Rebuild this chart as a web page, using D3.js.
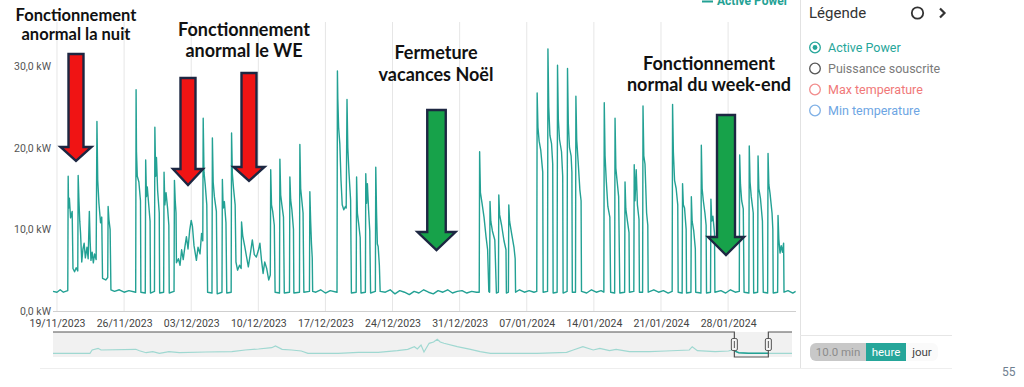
<!DOCTYPE html>
<html>
<head>
<meta charset="utf-8">
<script src="https://cdn.jsdelivr.net/npm/d3@7"></script>
<style>
	body { margin: 0; background: #fff; }
	svg { display: block; font-family: Roboto, "Noto Sans", sans-serif; }
	.annot { font-family: Lato, "Open Sans", sans-serif; font-weight: 700; fill: #111; }
</style>
</head>
<body>
<svg width="1024" height="387"></svg>
<script>
// hourly power: [local time, kW]
var weekNov20 = [
	["2023-11-18 14", 2.4], ["2023-11-19 00", 2.3], ["2023-11-19 08", 2.6], ["2023-11-19 16", 2.3], ["2023-11-20 03", 2.5],
	["2023-11-20 04", 16.5], ["2023-11-20 05", 12.6], ["2023-11-20 07", 13.8], ["2023-11-20 10", 11.4], ["2023-11-20 14", 12.2],
	["2023-11-20 16", 5.2], ["2023-11-20 20", 4.8], ["2023-11-21 00", 5.3], ["2023-11-21 04", 4.9],
	["2023-11-21 05", 16.6], ["2023-11-21 07", 13.4], ["2023-11-21 09", 11.0], ["2023-11-21 11", 9.5], ["2023-11-21 14", 6.0],
	["2023-11-21 17", 7.6], ["2023-11-21 20", 8.3], ["2023-11-21 23", 6.5], ["2023-11-22 03", 7.8], ["2023-11-22 06", 6.4],
	["2023-11-22 09", 12.2], ["2023-11-22 11", 8.5], ["2023-11-22 13", 6.2], ["2023-11-22 16", 7.2], ["2023-11-22 19", 5.9],
	["2023-11-22 22", 7.0], ["2023-11-23 02", 6.3],
	["2023-11-23 04", 23.2], ["2023-11-23 06", 16.0], ["2023-11-23 09", 13.2], ["2023-11-23 13", 10.8], ["2023-11-23 16", 11.5],
	["2023-11-23 18", 4.0], ["2023-11-24 02", 3.8], ["2023-11-24 07", 4.1],
	["2023-11-24 08", 12.8], ["2023-11-24 10", 11.2], ["2023-11-24 13", 10.0], ["2023-11-24 15", 2.6],
	["2023-11-25 00", 2.4], ["2023-11-25 12", 2.6], ["2023-11-26 00", 2.3], ["2023-11-26 12", 2.5], ["2023-11-27 05", 2.3]
]
var weekNov27 = [
	["2023-11-27 06", 27.1], ["2023-11-27 07", 19.5], ["2023-11-27 09", 16.5], ["2023-11-27 13", 15.8], ["2023-11-27 17", 13.5], ["2023-11-27 18", 2.3],
	["2023-11-28 05", 2.2], ["2023-11-28 06", 18.5], ["2023-11-28 08", 14.0], ["2023-11-28 10", 15.2], ["2023-11-28 14", 12.8], ["2023-11-28 17", 11.0], ["2023-11-28 18", 2.2],
	["2023-11-29 04", 2.4], ["2023-11-29 05", 22.5], ["2023-11-29 07", 16.5], ["2023-11-29 09", 18.8], ["2023-11-29 12", 14.7], ["2023-11-29 16", 12.0], ["2023-11-29 17", 2.2],
	["2023-11-30 03", 2.3], ["2023-11-30 04", 17.0], ["2023-11-30 06", 13.0], ["2023-11-30 09", 14.5], ["2023-11-30 13", 12.5], ["2023-11-30 16", 10.5], ["2023-11-30 17", 2.2],
	["2023-12-01 05", 2.4], ["2023-12-01 06", 16.0], ["2023-12-01 08", 13.5], ["2023-12-01 10", 12.0], ["2023-12-01 11", 5.9],
	["2023-12-01 16", 6.4], ["2023-12-01 20", 5.6], ["2023-12-02 00", 7.5], ["2023-12-02 04", 6.3], ["2023-12-02 08", 7.8],
	["2023-12-02 12", 9.1], ["2023-12-02 16", 7.6], ["2023-12-02 20", 9.8], ["2023-12-03 00", 11.1], ["2023-12-03 03", 10.4],
	["2023-12-03 07", 8.0], ["2023-12-03 13", 6.2], ["2023-12-03 17", 7.8], ["2023-12-03 22", 7.0], ["2023-12-04 02", 9.5], ["2023-12-04 05", 8.6]
]
var weekDec04 = [
	["2023-12-04 06", 23.6], ["2023-12-04 08", 17.0], ["2023-12-04 11", 15.5], ["2023-12-04 15", 13.0], ["2023-12-04 17", 2.3],
	["2023-12-05 04", 2.2], ["2023-12-05 05", 21.2], ["2023-12-05 07", 15.8], ["2023-12-05 10", 14.0], ["2023-12-05 15", 12.2], ["2023-12-05 17", 2.1],
	["2023-12-06 05", 2.3], ["2023-12-06 06", 16.1], ["2023-12-06 08", 12.6], ["2023-12-06 11", 13.4], ["2023-12-06 15", 10.8], ["2023-12-06 17", 2.2],
	["2023-12-07 04", 2.3], ["2023-12-07 05", 21.8], ["2023-12-07 07", 16.8], ["2023-12-07 10", 15.0], ["2023-12-07 14", 13.0],
	["2023-12-07 16", 6.0], ["2023-12-07 20", 5.0], ["2023-12-08 01", 5.6], ["2023-12-08 05", 5.2],
	["2023-12-08 06", 10.9], ["2023-12-08 09", 9.2], ["2023-12-08 14", 7.9], ["2023-12-08 19", 6.5], ["2023-12-08 23", 5.4],
	["2023-12-09 04", 7.0], ["2023-12-09 09", 8.7], ["2023-12-09 14", 6.9], ["2023-12-09 19", 6.6], ["2023-12-10 00", 7.4],
	["2023-12-10 04", 8.3], ["2023-12-10 08", 6.2], ["2023-12-10 12", 4.6], ["2023-12-10 16", 6.0], ["2023-12-10 21", 5.2],
	["2023-12-11 02", 3.8], ["2023-12-11 06", 4.4]
]
var weekDec11 = [
	["2023-12-11 07", 17.3], ["2023-12-11 09", 13.0], ["2023-12-11 12", 12.2], ["2023-12-11 16", 10.5], ["2023-12-11 18", 2.3],
	["2023-12-12 05", 2.2], ["2023-12-12 06", 18.6], ["2023-12-12 08", 14.2], ["2023-12-12 11", 13.0], ["2023-12-12 15", 11.5], ["2023-12-12 17", 2.2],
	["2023-12-13 06", 2.3], ["2023-12-13 07", 16.4], ["2023-12-13 09", 13.6], ["2023-12-13 12", 12.4], ["2023-12-13 16", 10.0], ["2023-12-13 17", 2.2],
	["2023-12-14 07", 2.3], ["2023-12-14 08", 20.4], ["2023-12-14 10", 15.0], ["2023-12-14 13", 13.5], ["2023-12-14 16", 12.0], ["2023-12-14 18", 2.3],
	["2023-12-15 08", 2.4], ["2023-12-15 09", 14.6], ["2023-12-15 11", 11.0], ["2023-12-15 13", 8.3], ["2023-12-15 15", 6.5], ["2023-12-15 16", 2.4],
	["2023-12-16 00", 2.3], ["2023-12-16 12", 2.6], ["2023-12-17 00", 2.2], ["2023-12-17 12", 2.5], ["2023-12-18 05", 2.3]
]
var weekDec18 = [
	["2023-12-18 06", 29.4], ["2023-12-18 07", 26.0], ["2023-12-18 09", 22.5], ["2023-12-18 12", 20.5], ["2023-12-18 15", 16.0],
	["2023-12-18 18", 13.0], ["2023-12-18 22", 12.4], ["2023-12-19 02", 12.8], ["2023-12-19 04", 12.6],
	["2023-12-19 06", 25.9], ["2023-12-19 08", 20.0], ["2023-12-19 11", 16.9], ["2023-12-19 15", 13.6], ["2023-12-19 17", 2.2],
	["2023-12-20 05", 2.3], ["2023-12-20 06", 16.4], ["2023-12-20 08", 12.0], ["2023-12-20 11", 10.8], ["2023-12-20 15", 9.0], ["2023-12-20 17", 2.2],
	["2023-12-21 04", 2.3], ["2023-12-21 05", 16.8], ["2023-12-21 07", 13.2], ["2023-12-21 09", 15.6], ["2023-12-21 12", 12.4], ["2023-12-21 15", 9.8], ["2023-12-21 17", 2.2],
	["2023-12-22 05", 2.4], ["2023-12-22 06", 17.6], ["2023-12-22 08", 12.0], ["2023-12-22 10", 8.2], ["2023-12-22 12", 7.9], ["2023-12-22 15", 5.6], ["2023-12-22 17", 2.4]
]
var christmas = [
	["2023-12-23 06", 2.3], ["2023-12-23 18", 2.6], ["2023-12-24 06", 2.1], ["2023-12-24 18", 2.5], ["2023-12-25 06", 2.3],
	["2023-12-25 18", 2.0], ["2023-12-26 06", 2.4], ["2023-12-26 18", 2.2], ["2023-12-27 06", 2.6], ["2023-12-27 18", 2.3],
	["2023-12-28 06", 2.1], ["2023-12-28 18", 2.5], ["2023-12-29 06", 2.3], ["2023-12-29 18", 2.6], ["2023-12-30 06", 2.2],
	["2023-12-30 18", 2.4], ["2023-12-31 06", 2.5], ["2023-12-31 18", 2.2], ["2024-01-01 06", 2.4], ["2024-01-01 18", 2.3], ["2024-01-02 01", 2.3]
]
var weekJan01 = [
	["2024-01-02 02", 19.5], ["2024-01-02 04", 14.5], ["2024-01-02 08", 13.2], ["2024-01-02 13", 11.5], ["2024-01-02 18", 9.1], ["2024-01-02 22", 7.5], ["2024-01-03 01", 2.4],
	["2024-01-03 03", 2.3], ["2024-01-03 04", 13.4], ["2024-01-03 06", 11.0], ["2024-01-03 10", 9.8], ["2024-01-03 16", 8.7], ["2024-01-03 20", 2.2],
	["2024-01-04 01", 2.3], ["2024-01-04 02", 14.2], ["2024-01-04 04", 11.8], ["2024-01-04 09", 10.5], ["2024-01-04 15", 8.6], ["2024-01-04 20", 7.5], ["2024-01-04 21", 2.2],
	["2024-01-05 02", 2.3], ["2024-01-05 03", 13.0], ["2024-01-05 05", 11.0], ["2024-01-05 10", 9.5], ["2024-01-05 16", 7.8], ["2024-01-05 19", 6.4], ["2024-01-05 20", 2.3],
	["2024-01-06 06", 2.6], ["2024-01-06 18", 2.3], ["2024-01-07 06", 2.5], ["2024-01-07 18", 2.3], ["2024-01-08 01", 2.4]
]
var weekJan08 = [
	["2024-01-08 02", 26.7], ["2024-01-08 04", 22.5], ["2024-01-08 07", 20.8], ["2024-01-08 11", 19.7], ["2024-01-08 16", 17.0], ["2024-01-08 17", 2.3],
	["2024-01-09 04", 2.4], ["2024-01-09 05", 32.1], ["2024-01-09 07", 25.0], ["2024-01-09 10", 21.5], ["2024-01-09 14", 20.5], ["2024-01-09 17", 18.0], ["2024-01-09 18", 2.2],
	["2024-01-10 04", 2.3], ["2024-01-10 05", 30.1], ["2024-01-10 07", 23.5], ["2024-01-10 10", 21.0], ["2024-01-10 15", 19.5], ["2024-01-10 18", 16.5], ["2024-01-10 19", 2.2],
	["2024-01-11 05", 2.4], ["2024-01-11 06", 29.7], ["2024-01-11 08", 23.0], ["2024-01-11 11", 20.0], ["2024-01-11 15", 19.0], ["2024-01-11 17", 17.0], ["2024-01-11 18", 2.3],
	["2024-01-12 02", 2.3], ["2024-01-12 03", 26.3], ["2024-01-12 05", 21.0], ["2024-01-12 09", 18.0], ["2024-01-12 13", 14.8], ["2024-01-12 16", 13.5], ["2024-01-12 17", 2.4],
	["2024-01-13 06", 2.2], ["2024-01-13 18", 2.6], ["2024-01-14 06", 2.3], ["2024-01-14 18", 2.5], ["2024-01-15 01", 2.3]
]
var weekJan15 = [
	["2024-01-15 02", 25.5], ["2024-01-15 04", 19.0], ["2024-01-15 07", 16.0], ["2024-01-15 11", 12.8], ["2024-01-15 16", 11.5], ["2024-01-15 18", 2.3],
	["2024-01-16 04", 2.2], ["2024-01-16 05", 23.6], ["2024-01-16 07", 17.5], ["2024-01-16 10", 16.0], ["2024-01-16 14", 14.0], ["2024-01-16 17", 2.2],
	["2024-01-17 05", 2.3], ["2024-01-17 06", 15.8], ["2024-01-17 08", 12.5], ["2024-01-17 12", 11.0], ["2024-01-17 16", 9.6], ["2024-01-17 17", 2.3],
	["2024-01-18 04", 2.4], ["2024-01-18 05", 17.9], ["2024-01-18 07", 13.5], ["2024-01-18 10", 17.3], ["2024-01-18 13", 13.0], ["2024-01-18 17", 11.2], ["2024-01-18 18", 2.3],
	["2024-01-19 02", 2.3], ["2024-01-19 03", 25.1], ["2024-01-19 05", 19.0], ["2024-01-19 08", 18.0], ["2024-01-19 12", 12.0], ["2024-01-19 15", 10.5], ["2024-01-19 16", 2.3],
	["2024-01-20 06", 2.6], ["2024-01-20 18", 2.3], ["2024-01-21 06", 2.5], ["2024-01-21 18", 2.2], ["2024-01-22 04", 2.4]
]
var weekJan22 = [
	["2024-01-22 05", 25.3], ["2024-01-22 07", 19.5], ["2024-01-22 10", 16.0], ["2024-01-22 14", 15.0], ["2024-01-22 18", 13.0], ["2024-01-22 19", 2.3],
	["2024-01-23 05", 2.2], ["2024-01-23 06", 15.6], ["2024-01-23 08", 13.0], ["2024-01-23 11", 12.6], ["2024-01-23 15", 10.0], ["2024-01-23 16", 2.2],
	["2024-01-24 03", 2.3], ["2024-01-24 04", 14.0], ["2024-01-24 06", 11.0], ["2024-01-24 10", 9.8], ["2024-01-24 14", 7.6], ["2024-01-24 15", 2.3],
	["2024-01-25 04", 2.2], ["2024-01-25 05", 20.3], ["2024-01-25 07", 15.0], ["2024-01-25 10", 13.5], ["2024-01-25 14", 12.0], ["2024-01-25 17", 10.5], ["2024-01-25 18", 2.2],
	["2024-01-26 04", 2.3], ["2024-01-26 05", 13.7], ["2024-01-26 07", 11.0], ["2024-01-26 10", 11.6], ["2024-01-26 14", 9.5], ["2024-01-26 15", 2.3],
	["2024-01-27 06", 2.5], ["2024-01-27 18", 2.2], ["2024-01-28 06", 2.6], ["2024-01-28 18", 2.3], ["2024-01-29 04", 2.4]
]
var weekJan29 = [
	["2024-01-29 05", 19.1], ["2024-01-29 07", 15.5], ["2024-01-29 10", 13.5], ["2024-01-29 14", 12.5], ["2024-01-29 16", 2.3],
	["2024-01-30 04", 2.2], ["2024-01-30 05", 20.2], ["2024-01-30 07", 15.8], ["2024-01-30 10", 14.0], ["2024-01-30 15", 12.0], ["2024-01-30 16", 2.2],
	["2024-01-31 02", 2.3], ["2024-01-31 03", 19.0], ["2024-01-31 05", 15.0], ["2024-01-31 09", 13.8], ["2024-01-31 14", 11.0], ["2024-01-31 16", 2.3],
	["2024-02-01 03", 2.2], ["2024-02-01 04", 19.3], ["2024-02-01 06", 15.5], ["2024-02-01 09", 14.4], ["2024-02-01 14", 12.0], ["2024-02-01 16", 10.0], ["2024-02-01 17", 2.2],
	["2024-02-02 04", 2.3], ["2024-02-02 05", 11.7], ["2024-02-02 07", 8.8], ["2024-02-02 10", 7.1], ["2024-02-02 13", 8.0], ["2024-02-02 16", 7.2], ["2024-02-02 19", 8.3], ["2024-02-02 20", 2.3],
	["2024-02-03 06", 2.5], ["2024-02-03 18", 2.2], ["2024-02-04 01", 2.4]
]

// navigator (overview) series, [position 0..100, kW]
var navigatorSeries = [
	[0, 3.7], [5.0, 3.7], [5.3, 7.0], [6.1, 8.7], [6.5, 7.0], [11.2, 7.7], [11.7, 6.3], [12.6, 4.3], [13.5, 5.3],
	[14.4, 3.7], [15.7, 5.3], [17.1, 4.3], [20.7, 5.0], [24.2, 5.3], [26.0, 7.0], [27.8, 8.0], [29.6, 9.3], [30.1, 11.0],
	[31.0, 7.7], [32.3, 7.0], [33.6, 6.0], [34.5, 3.7], [38.6, 3.7], [41.3, 4.7], [44.0, 4.7], [46.6, 6.3], [48.0, 7.7],
	[48.9, 10.3], [49.3, 8.0], [49.8, 12.0], [50.2, 5.0], [50.9, 13.7], [51.5, 15.0], [52.0, 17.7], [52.4, 15.0], [52.9, 13.7],
	[54.7, 10.3], [56.5, 7.7], [57.8, 5.3], [59.2, 3.7], [65.5, 3.7], [69.5, 4.7], [70.4, 7.0], [71.7, 10.3], [73.1, 7.0],
	[74.0, 8.7], [75.3, 6.3], [76.2, 7.7], [78.0, 5.3], [80.7, 5.3], [82.9, 6.0], [86.1, 7.0], [86.5, 10.3], [87.2, 6.3],
	[89.6, 5.3], [91.4, 6.0], [91.9, 7.0], [92.8, 4.3], [94.1, 3.7], [96.1, 3.7], [96.8, 3.7], [100, 3.7]
]
var navigatorBrush = [92.2, 96.8]

var weekTicks = ["2023-11-19", "2023-11-26", "2023-12-03", "2023-12-10", "2023-12-17", "2023-12-24",
	"2023-12-31", "2024-01-07", "2024-01-14", "2024-01-21", "2024-01-28"]
var yTicks = [0, 10, 20, 30]

var legendItems = [
	{ label: "Active Power", color: "#26a69a", text: "#26a69a", active: true },
	{ label: "Puissance souscrite", color: "#555", text: "#7a7a7a" },
	{ label: "Max temperature", color: "#f28b8b", text: "#f07878" },
	{ label: "Min temperature", color: "#7fb0e6", text: "#6da5e3" }
]
var resolutions = ["10.0 min", "heure", "jour"]

var annotations = [
	{ lines: ["Fonctionnement", "anormal la nuit"], x: 76, y: 21, size: 16.5, gap: 18.5 },
	{ lines: ["Fonctionnement", "anormal le WE"], x: 244, y: 36, size: 18, gap: 20.5 },
	{ lines: ["Fermeture", "vacances Noël"], x: 436, y: 59, size: 18, gap: 21.5 },
	{ lines: ["Fonctionnement", "normal du week-end"], x: 709, y: 70, size: 18, gap: 21 }
]
var arrows = [
	{ cx: 76, top: 54, w: 15, headTop: 147, headW: 31, tip: 161, fill: "#f01414" },
	{ cx: 188, top: 78, w: 15, headTop: 169, headW: 30, tip: 185, fill: "#f01414" },
	{ cx: 249, top: 73, w: 15, headTop: 167, headW: 31, tip: 181, fill: "#f01414" },
	{ cx: 436.5, top: 110, w: 18.5, headTop: 232, headW: 38, tip: 250, fill: "#17a24a" },
	{ cx: 726, top: 115, w: 18, headTop: 237, headW: 36, tip: 255, fill: "#17a24a" }
]

var parseHour = d3.timeParse("%Y-%m-%d %H")
var parseDay = d3.timeParse("%Y-%m-%d")
var power = [].concat(weekNov20, weekNov27, weekDec04, weekDec11, weekDec18, christmas,
	weekJan01, weekJan08, weekJan15, weekJan22, weekJan29)
	.map(function (d) { return { date: parseHour(d[0]), value: d[1] } })

var svg = d3.select("svg")
var teal = "#23a194"

var x = d3.scaleTime()
	.domain([parseHour("2023-11-18 14"), parseHour("2024-02-04 02")])
	.range([53, 796])
var y = d3.scaleLinear().domain([0, 30]).range([311, 66])

var fr = d3.formatLocale({ decimal: ",", thousands: " ", grouping: [3], currency: ["", " €"] })
var fmtKw = function (v) { return fr.format(".1f")(v) + " kW" }

// vertical week grid
svg.append("g")
	.selectAll("line")
	.data(weekTicks.map(parseDay))
	.enter()
	.append("line")
	.attr("x1", function (d) { return x(d) })
	.attr("x2", function (d) { return x(d) })
	.attr("y1", 22)
	.attr("y2", 311)
	.attr("stroke", "#e6e6e6")
	.attr("stroke-width", 1)

// x axis
var xAxis = svg.append("g")
	.attr("transform", "translate(0,311)")
	.call(d3.axisBottom(x).tickValues(weekTicks.map(parseDay)).tickFormat(d3.timeFormat("%d/%m/%Y")).tickSize(0).tickPadding(9))
xAxis.select(".domain").attr("stroke", "#cfcfcf").attr("d", "M53,0.5H796")
xAxis.selectAll("text").attr("fill", "#444").attr("font-size", 10.5).attr("font-family", "Roboto")

// y axis (labels only)
var yAxis = svg.append("g")
	.attr("transform", "translate(51,0)")
	.call(d3.axisLeft(y).tickValues(yTicks).tickFormat(fmtKw).tickSize(0).tickPadding(0))
yAxis.select(".domain").remove()
yAxis.selectAll("text").attr("fill", "#555").attr("font-size", 10.5).attr("font-family", "Roboto")

// power line
svg.append("path")
	.datum(power)
	.attr("fill", "none")
	.attr("stroke", teal)
	.attr("stroke-width", 1.4)
	.attr("stroke-linejoin", "round")
	.attr("d", d3.line().x(function (d) { return x(d.date) }).y(function (d) { return y(d.value) }))

// top legend (cut by the frame)
svg.append("line")
	.attr("x1", 702).attr("x2", 713).attr("y1", 1.5).attr("y2", 1.5)
	.attr("stroke", teal).attr("stroke-width", 2)
svg.append("text")
	.attr("x", 717).attr("y", 5)
	.attr("fill", teal).attr("font-size", 12).attr("font-weight", 700)
	.text("Active Power")

// navigator
var nx = d3.scaleLinear().domain([0, 100]).range([53, 792])
var ny = d3.scaleLinear().domain([0, 25]).range([357, 332])
var nav = svg.append("g")
nav.append("rect")
	.attr("x", nx(0)).attr("y", ny(25)).attr("width", nx(100) - nx(0)).attr("height", ny(0) - ny(25))
	.attr("fill", "#f1f1f1")
var navLine = d3.line().x(function (d) { return nx(d[0]) }).y(function (d) { return ny(d[1]) })
nav.append("path").datum(navigatorSeries)
	.attr("fill", "none").attr("stroke", "#9fd8d1").attr("stroke-width", 1.2).attr("d", navLine)
nav.append("clipPath").attr("id", "brushclip")
	.append("rect")
	.attr("x", nx(navigatorBrush[0])).attr("y", 330)
	.attr("width", nx(navigatorBrush[1]) - nx(navigatorBrush[0])).attr("height", 30)
nav.append("path").datum(navigatorSeries)
	.attr("clip-path", "url(#brushclip)")
	.attr("fill", "none").attr("stroke", teal).attr("stroke-width", 1.4).attr("d", navLine)
var b0 = nx(navigatorBrush[0]), b1 = nx(navigatorBrush[1])
nav.append("path")
	.attr("d", "M" + nx(0) + "," + ny(25) + "H" + b0 + "V" + ny(0) + "H" + b1 + "V" + ny(25) + "H" + nx(100))
	.attr("fill", "none").attr("stroke", "#555").attr("stroke-width", 1.2)
nav.selectAll(".handle")
	.data([b0, b1])
	.enter()
	.append("g")
	.attr("class", "handle")
	.each(function (hx) {
		var g = d3.select(this)
		g.append("rect").attr("x", hx - 3).attr("y", 338.5).attr("width", 6).attr("height", 12).attr("rx", 1.5)
			.attr("fill", "#f4f4f4").attr("stroke", "#555").attr("stroke-width", 1)
		g.append("line").attr("x1", hx).attr("x2", hx).attr("y1", 341).attr("y2", 348)
			.attr("stroke", "#555").attr("stroke-width", 1)
	})

// annotations
annotations.forEach(function (a) {
	var t = svg.append("text")
		.attr("class", "annot")
		.attr("text-anchor", "middle")
		.attr("font-size", a.size)
	a.lines.forEach(function (line, i) {
		t.append("tspan").attr("x", a.x).attr("y", a.y + i * a.gap).text(line)
	})
})

svg.append("g")
	.selectAll("path")
	.data(arrows)
	.enter()
	.append("path")
	.attr("d", function (a) {
		var l = a.cx - a.w / 2, r = a.cx + a.w / 2
		return "M" + l + "," + a.top + "H" + r + "V" + a.headTop + "H" + (a.cx + a.headW / 2) +
			"L" + a.cx + "," + a.tip + "L" + (a.cx - a.headW / 2) + "," + a.headTop + "H" + l + "Z"
	})
	.attr("fill", function (a) { return a.fill })
	.attr("stroke", "#1d2742")
	.attr("stroke-width", 2.4)
	.attr("stroke-linejoin", "miter")

// right panel
svg.append("line").attr("x1", 800.5).attr("x2", 800.5).attr("y1", 0).attr("y2", 368).attr("stroke", "#e2e2e2")
svg.append("line").attr("x1", 800).attr("x2", 952).attr("y1", 335.5).attr("y2", 335.5).attr("stroke", "#e6e6e6")
svg.append("line").attr("x1", 40).attr("x2", 952).attr("y1", 368.5).attr("y2", 368.5).attr("stroke", "#eeeeee")

svg.append("text").attr("x", 809).attr("y", 18).attr("fill", "#333").attr("font-size", 15).text("Légende")
svg.append("circle").attr("cx", 917.5).attr("cy", 13).attr("r", 5.7)
	.attr("fill", "none").attr("stroke", "#333").attr("stroke-width", 1.8)
svg.append("path").attr("d", "M940,8.5L944.5,13L940,17.5")
	.attr("fill", "none").attr("stroke", "#333").attr("stroke-width", 2.2)

var leg = svg.append("g")
	.selectAll("g")
	.data(legendItems)
	.enter()
	.append("g")
	.attr("transform", function (d, i) { return "translate(815," + (47.5 + i * 21) + ")" })
leg.append("circle").attr("r", 5.3).attr("fill", "none")
	.attr("stroke", function (d) { return d.color }).attr("stroke-width", 1.3)
leg.filter(function (d) { return d.active }).append("circle").attr("r", 2.4).attr("fill", function (d) { return d.color })
leg.append("text").attr("x", 13).attr("dy", "0.35em").attr("font-size", 12.5)
	.attr("fill", function (d) { return d.text })
	.text(function (d) { return d.label })

// resolution switch
var pill = svg.append("g")
pill.append("clipPath").attr("id", "pillclip")
	.append("rect").attr("x", 810).attr("y", 343).attr("width", 128).attr("height", 18).attr("rx", 6)
var segs = [{ x0: 810, x1: 866, bg: "#c8c8c8", fg: "#8c8c8c" }, { x0: 866, x1: 906, bg: "#26a69a", fg: "#fff" }, { x0: 906, x1: 938, bg: "#fafafa", fg: "#444" }]
pill.append("g").attr("clip-path", "url(#pillclip)")
	.selectAll("rect")
	.data(segs)
	.enter()
	.append("rect")
	.attr("x", function (d) { return d.x0 }).attr("y", 343)
	.attr("width", function (d) { return d.x1 - d.x0 }).attr("height", 18)
	.attr("fill", function (d) { return d.bg })
pill.selectAll("text")
	.data(resolutions)
	.enter()
	.append("text")
	.attr("x", function (d, i) { return (segs[i].x0 + segs[i].x1) / 2 })
	.attr("y", 356)
	.attr("text-anchor", "middle")
	.attr("font-size", 11.5)
	.attr("fill", function (d, i) { return segs[i].fg })
	.text(function (d) { return d })

svg.append("text").attr("x", 1002).attr("y", 376).attr("fill", "#6f8091").attr("font-size", 12).text("55")
</script>
</body>
</html>
